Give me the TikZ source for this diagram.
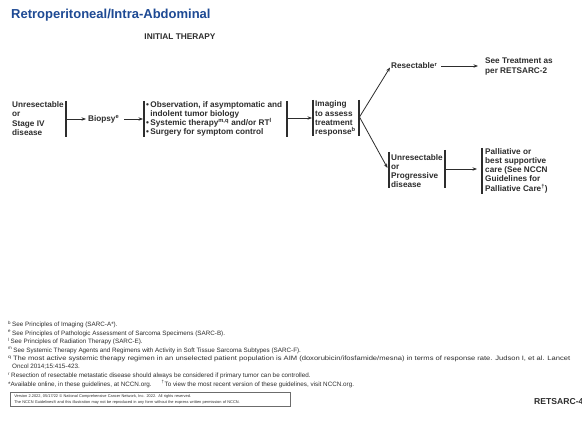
\documentclass[tikz,border=0pt]{standalone}
\usepackage{fontspec}
\usepackage{graphicx}
\setmainfont{Liberation Sans}
\usetikzlibrary{arrows.meta}
\definecolor{nccnblue}{RGB}{30,74,148}
\definecolor{ink}{RGB}{45,45,45}
\begin{document}
\begin{tikzpicture}[x=1pt,y=-1pt,
  txt/.style={inner sep=0pt, align=left, font=\fontsize{8.2}{9.2}\selectfont\bfseries, text=ink, anchor=west},
  bar/.style={line width=1.1pt, draw=ink},
  conn/.style={line width=0.8pt, draw=ink, -{Stealth[length=4.5pt,width=3.4pt]}},
  foot/.style={inner sep=0pt, anchor=base west, font=\fontsize{6.3}{8}\selectfont, text=ink},
]
\useasboundingbox (0,0) rectangle (582,422);
\fill[white] (0,0) rectangle (582,422);

% titles
\node[anchor=base west, inner sep=0pt, font=\fontsize{13}{15}\selectfont\bfseries, text=nccnblue] (title) at (11,18.5) {Retroperitoneal/Intra-Abdominal};
\node[inner sep=0pt, font=\fontsize{8.3}{10}\selectfont\bfseries, text=ink] (hdr) at (180,37) {INITIAL THERAPY};

% main flow nodes
\node[txt] (unres) at (12,118.5) {Unresectable\\or\\Stage IV\\disease};
\node[txt] (biopsy) at (88,119) {Biopsy\textsuperscript{e}};
\node[txt] (ther) at (146,119) {\textbullet\,Observation, if asymptomatic and\\\phantom{\textbullet\,}indolent tumor biology\\\textbullet\,Systemic therapy\textsuperscript{m,q} and/or RT\textsuperscript{l}\\\textbullet\,Surgery for symptom control};
\node[txt] (imaging) at (315,118.5) {Imaging\\to assess\\treatment\\response\textsuperscript{b}};
\node[txt] (resect) at (391,66) {Resectable\textsuperscript{r}};
\node[txt] (see) at (485,66.5) {See Treatment as\\per RETSARC-2};
\node[txt] (prog) at (391,171) {Unresectable\\or\\Progressive\\disease};
\node[txt] (pall) at (485,170.5) {Palliative or\\best supportive\\care (See NCCN\\Guidelines for\\Palliative Care\textsuperscript{†})};

% bars
\draw[bar] (66,101) -- (66,137);
\draw[bar] (144,101) -- (144,137);
\draw[bar] (287,101) -- (287,137);
\draw[bar] (313,100) -- (313,136);
\draw[bar] (359,100) -- (359,136);
\draw[bar] (389,152) -- (389,188);
\draw[bar] (445,150) -- (445,188);
\draw[bar] (482,148) -- (482,194);

% connector end points on bars
\coordinate (u1) at (66.5,119);
\coordinate (t0) at (143,119);
\coordinate (t1) at (287.5,118);
\coordinate (i0) at (312,118);
\coordinate (j) at (359.5,117);
\coordinate (p1) at (445.5,169);
\coordinate (q0) at (481,169);

% connectors
\draw[conn] (u1) -- ([xshift=-2pt]biopsy.west);
\draw[conn] ([xshift=5pt]biopsy.east) -- (t0);
\draw[conn] (t1) -- (i0);
\draw[conn] (j) -- ([xshift=-1pt,yshift=-1.5pt]resect.west);
\draw[conn] ([xshift=4pt]resect.east) -- ([xshift=-7pt]see.west |- resect.west);
\draw[conn] (j) -- ([xshift=-3.5pt,yshift=3pt]prog.west);
\draw[conn] (p1) -- ([xshift=-4pt]q0);

% footnotes
\node[foot] (fn1) at (8,327) {\textsuperscript{b}\,See Principles of Imaging (SARC-A*).};
\node[foot] (fn2) at (8,335.5) {\textsuperscript{e}\,See Principles of Pathologic Assessment of Sarcoma Specimens (SARC-B).};
\node[foot] (fn3) at (8,344) {\textsuperscript{l}\,See Principles of Radiation Therapy (SARC-E).};
\node[foot] (fn4) at (8,352.5) {\textsuperscript{m}\,See Systemic Therapy Agents and Regimens with Activity in Soft Tissue Sarcoma Subtypes (SARC-F).};
\node[foot] (fn5) at (8,361) {\resizebox{562pt}{\height}{\textsuperscript{q}\,The most active systemic therapy regimen in an unselected patient population is AIM (doxorubicin/ifosfamide/mesna) in terms of response rate. Judson I, et al. Lancet}};
\node[foot] (fn5b) at (12,369) {Oncol 2014;15:415-423.};
\node[foot] (fn6) at (8,378) {\textsuperscript{r}\,Resection of resectable metastatic disease should always be considered if primary tumor can be controlled.};
\node[foot] (fn7) at (8,386.5) {*Available online, in these guidelines, at NCCN.org.\hspace{10pt}\textsuperscript{†}To view the most recent version of these guidelines, visit NCCN.org.};

% copyright box
\node[draw=ink!70, line width=0.6pt, anchor=north west, inner xsep=4pt, inner ysep=2.5pt, text width=272pt, align=left, font=\fontsize{3.9}{5.6}\selectfont, text=ink] (ver) at (10,392) {Version 2.2022, 05/17/22 © National Comprehensive Cancer Network, Inc. 2022. All rights reserved.\\The NCCN Guidelines® and this illustration may not be reproduced in any form without the express written permission of NCCN.};

\node[anchor=base west, inner sep=0pt, font=\fontsize{8.6}{10}\selectfont\bfseries, text=ink] (page) at (534,405) {RETSARC-4};
\end{tikzpicture}
\end{document}
